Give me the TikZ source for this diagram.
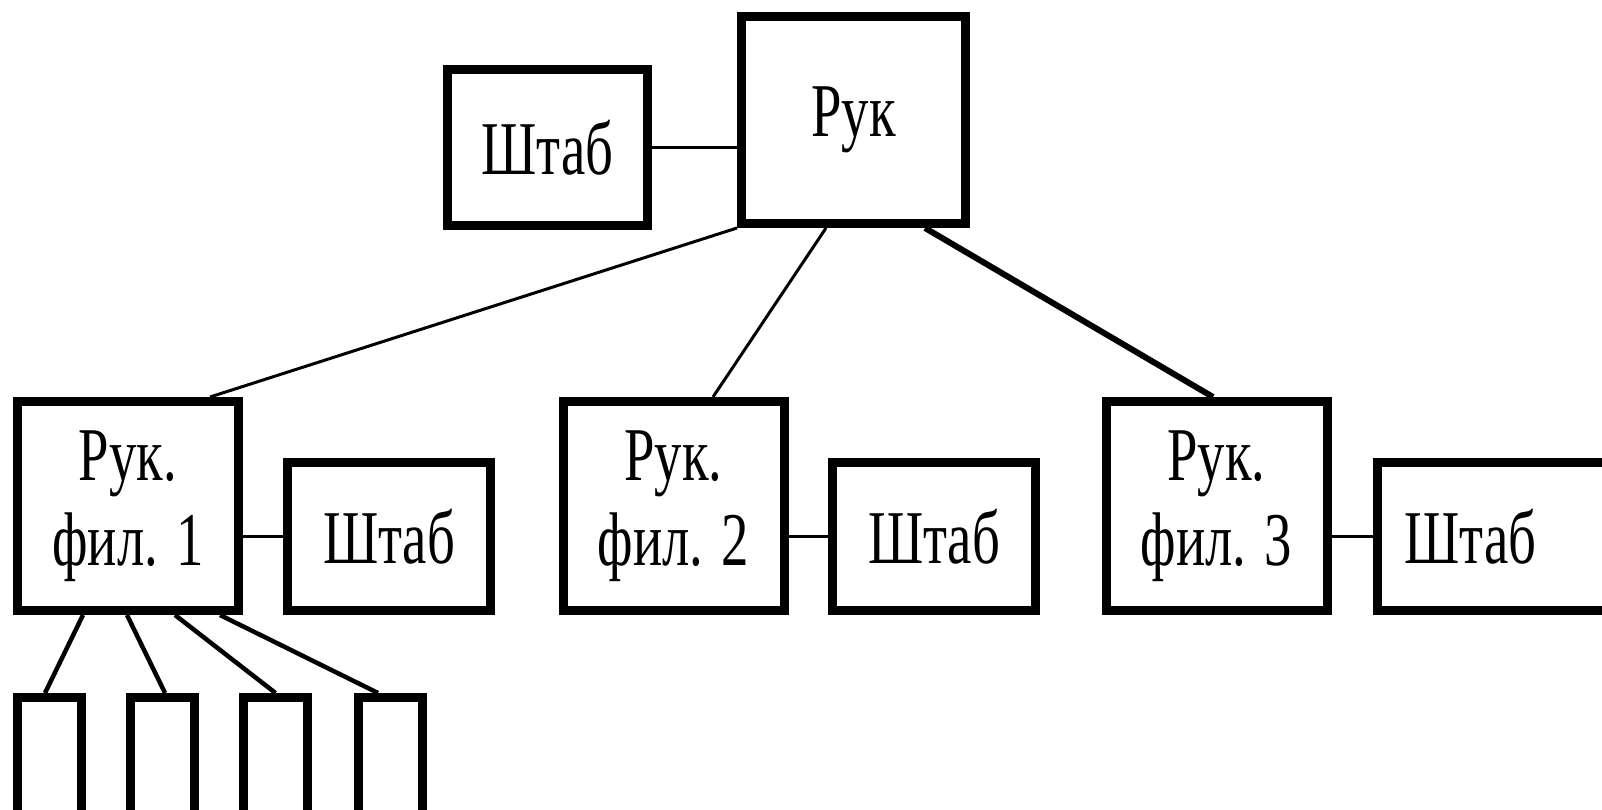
\documentclass[tikz,border=0pt]{standalone}
\usepackage{fontspec}
\setmainfont[FakeStretch=0.72]{Liberation Serif}
\begin{document}
\begin{tikzpicture}[x=1pt,y=-1pt,
  box/.style={draw, line width=9pt, inner sep=0pt, align=center,
    font=\fontsize{76}{85}\selectfont},
  head/.style={box, minimum width=221pt, minimum height=209pt},
  staff/.style={box, minimum width=203pt, minimum height=148pt},
  unit/.style={box, minimum width=64pt, minimum height=128pt},
  link/.style={line width=3pt},
  boldlink/.style={line width=6pt},
  sublink/.style={line width=4.5pt}]
\useasboundingbox (0,0) rectangle (1602,810);
\fill[white] (0,0) rectangle (1602,810);
% top level
\node[box, minimum width=200pt, minimum height=156pt] (shtab0) at (547.5,147.5) {Штаб};
\node[box, minimum width=224pt, minimum height=207pt] (ruk) at (853.5,120) {Рук};
% branch heads
\node[head] (f1) at (128,506) {Рук.\\фил. 1};
\node[head] (f2) at (673.5,506) {Рук.\\фил. 2};
\node[head] (f3) at (1216.5,506) {Рук.\\фил. 3};
% staffs
\node[staff] (s1) at (389,536.5) {Штаб};
\node[staff] (s2) at (934,536.5) {Штаб};
\node[staff, minimum width=238pt] (s3) at (1496.5,536.5) {Штаб\hspace*{52pt}};
% units
\node[unit] (b1) at (49,761.5) {};
\node[unit] (b2) at (162.5,761.5) {};
\node[unit] (b3) at (275.5,761.5) {};
\node[unit] (b4) at (390.5,761.5) {};
% connectors
\draw[link] (shtab0.east) -- (shtab0.east -| ruk.west);
\draw[link] (ruk.south west) -- ([xshift=82pt]f1.north);
\draw[link] ([xshift=-27.5pt]ruk.south) -- ([xshift=39.5pt]f2.north);
\draw[boldlink] ([xshift=71.5pt]ruk.south) -- ([xshift=-3.5pt]f3.north);
\draw[link] (s1.west -| f1.east) -- (s1.west);
\draw[link] (s2.west -| f2.east) -- (s2.west);
\draw[link] (s3.west -| f3.east) -- (s3.west);
\draw[sublink] ([xshift=-45pt]f1.south) -- ([xshift=-4pt]b1.north);
\draw[sublink] ([xshift=-1pt]f1.south) -- ([xshift=2.5pt]b2.north);
\draw[sublink] ([xshift=47pt]f1.south) -- (b3.north);
\draw[sublink] ([xshift=92pt]f1.south) -- ([xshift=-12.5pt]b4.north);
\end{tikzpicture}
\end{document}
